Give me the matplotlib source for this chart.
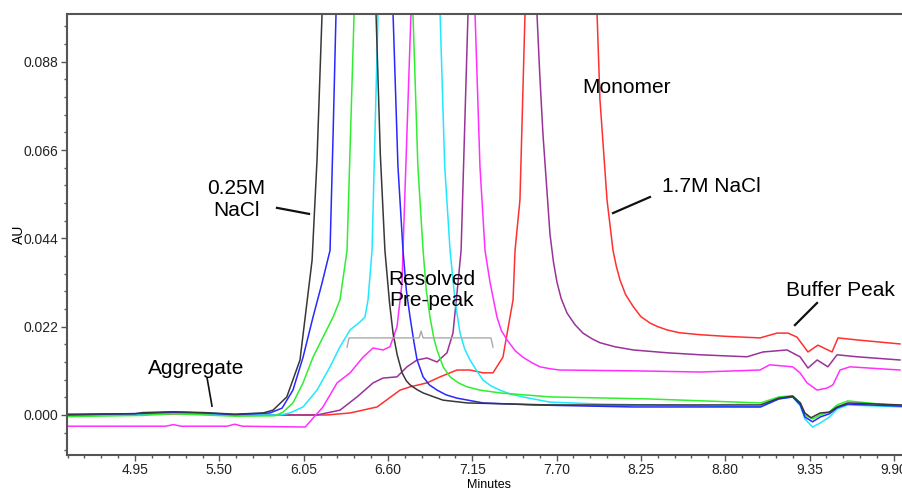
import numpy as np
import matplotlib
matplotlib.use("Agg")
import matplotlib.pyplot as plt
from matplotlib.ticker import MultipleLocator, FormatStrFormatter

plt.rcParams['font.family'] = ['Liberation Sans', 'DejaVu Sans']

# traces (minutes, AU); apex points are off-scale
t_black = [4.51, 4.95, 5.0, 5.2, 5.4, 5.6, 5.785, 5.85, 5.94, 6.026, 6.105, 6.137, 6.17, 6.35,
           6.522, 6.55, 6.58, 6.61, 6.633, 6.66, 6.692, 6.72, 6.744, 6.79, 6.829, 6.9, 6.959, 7.116,
           7.442, 7.657, 8.3, 9.03,
           9.15, 9.24, 9.29, 9.32, 9.36, 9.42, 9.48, 9.53, 9.6, 9.95]
au_black = [0.0002, 0.0003, 0.0006, 0.0008, 0.0006, 0.0002, 0.0005, 0.0012, 0.0045, 0.0137, 0.0386, 0.0635, 0.1, 0.25,
            0.1, 0.065, 0.041, 0.028, 0.0204, 0.015, 0.0105, 0.0085, 0.0075, 0.0063, 0.0055, 0.0045, 0.0037, 0.003,
            0.0027, 0.0025, 0.0025, 0.0025,
            0.0042, 0.0047, 0.003, 0.0005, -0.0007, 0.0005, 0.0007, 0.002, 0.003, 0.0025]

t_blue = [4.51, 5.0, 5.2, 5.4, 5.6, 5.83, 5.909, 5.98, 6.046, 6.111, 6.17, 6.222, 6.242, 6.261, 6.45,
          6.633, 6.665, 6.698, 6.72, 6.744, 6.77, 6.79, 6.829, 6.87, 6.92, 6.98, 7.05, 7.22, 7.546, 8.2, 9.03,
          9.15, 9.24, 9.29, 9.32, 9.37, 9.42, 9.48, 9.53, 9.6, 9.95]
au_blue = [0.0, 0.0004, 0.0007, 0.0005, 0.0001, 0.0005, 0.0017, 0.0062, 0.0144, 0.0244, 0.0329, 0.041, 0.07, 0.1, 0.25,
           0.1, 0.062, 0.041, 0.031, 0.0244, 0.018, 0.0137, 0.0095, 0.0075, 0.0062, 0.005, 0.0042, 0.003, 0.0025, 0.002, 0.002,
           0.004, 0.0045, 0.0025, -0.0005, -0.0017, -0.0005, 0.0003, 0.0018, 0.0027, 0.0022]

t_green = [4.51, 5.0, 5.2, 5.4, 5.6, 5.86, 5.915, 5.98, 6.046, 6.111, 6.176, 6.242, 6.287, 6.333, 6.379, 6.57,
           6.763, 6.795, 6.829, 6.85, 6.874, 6.9, 6.92, 6.96, 7.005, 7.06, 7.116, 7.2, 7.33, 7.657, 8.3, 9.03,
           9.15, 9.24, 9.29, 9.32, 9.37, 9.42, 9.48, 9.53, 9.6, 9.95]
au_green = [-0.0004, -0.0001, 0.0003, 0.0, -0.0003, -0.0002, 0.0007, 0.003, 0.008, 0.0144, 0.0194, 0.0244, 0.0287, 0.041, 0.1, 0.25,
            0.1, 0.062, 0.041, 0.031, 0.0244, 0.019, 0.0162, 0.012, 0.0095, 0.008, 0.007, 0.0062, 0.0055, 0.0045, 0.004, 0.003,
            0.0045, 0.0048, 0.003, 0.0, -0.001, 0.0, 0.0008, 0.0025, 0.0035, 0.0022]

t_cyan = [4.51, 5.0, 5.2, 5.4, 5.6, 5.9, 5.96, 6.046, 6.137, 6.222, 6.287, 6.353, 6.418, 6.45, 6.47, 6.496, 6.535, 6.74,
          6.94, 6.97, 7.005, 7.037, 7.07, 7.1, 7.135, 7.18, 7.22, 7.27, 7.33, 7.4, 7.48, 7.657, 8.0, 9.03,
          9.15, 9.24, 9.29, 9.32, 9.37, 9.42, 9.48, 9.53, 9.6, 9.95]
au_cyan = [0.0, 0.0002, 0.0005, 0.0003, 0.0, 0.0, 0.0005, 0.002, 0.0062, 0.012, 0.017, 0.0212, 0.0232, 0.0244, 0.0287, 0.041, 0.1, 0.25,
           0.1, 0.062, 0.041, 0.0287, 0.0204, 0.0165, 0.0137, 0.011, 0.0087, 0.0073, 0.0062, 0.0052, 0.0045, 0.0032, 0.0027, 0.002,
           0.004, 0.0045, 0.0023, -0.001, -0.003, -0.002, -0.0005, 0.0015, 0.0025, 0.002]

t_magenta = [4.51, 5.15, 5.2, 5.25, 5.55, 5.6, 5.65, 6.06, 6.09, 6.176, 6.268, 6.353, 6.437, 6.503, 6.568, 6.613,
             6.659, 6.692, 6.698, 6.75, 6.96,
             7.168, 7.2, 7.233, 7.266, 7.311, 7.34, 7.377, 7.43, 7.48, 7.54, 7.592, 7.66, 7.722, 8.2, 8.636,
             9.027, 9.09, 9.24, 9.288,
             9.334, 9.4, 9.464, 9.503, 9.549, 9.614, 9.94]
au_magenta = [-0.0028, -0.0028, -0.0024, -0.0028, -0.0028, -0.0023, -0.0028, -0.003, -0.0017, 0.002, 0.008, 0.0105, 0.0144, 0.0167, 0.0162, 0.017,
              0.022, 0.033, 0.041, 0.1, 0.25,
              0.1, 0.062, 0.041, 0.033, 0.0244, 0.021, 0.0187, 0.016, 0.0144, 0.013, 0.012, 0.0115, 0.0112, 0.011, 0.0107,
              0.0112, 0.0125, 0.012, 0.0105,
              0.008, 0.0062, 0.0067, 0.0075, 0.0112, 0.012, 0.0112]

t_purple = [4.51, 5.0, 5.3, 5.6, 6.137, 6.287, 6.398, 6.503, 6.568, 6.659, 6.724, 6.79, 6.855, 6.92, 6.985, 7.024,
            7.057, 7.077, 7.122, 7.35,
            7.572, 7.59, 7.611, 7.635, 7.657, 7.68, 7.703, 7.73, 7.768, 7.82, 7.872, 7.93, 7.983, 8.08, 8.2,
            8.42, 8.636, 8.942, 9.047, 9.203, 9.288,
            9.34, 9.4, 9.47, 9.53, 9.66, 9.94]
au_purple = [0.0, 0.0003, 0.0004, 0.0, 0.0, 0.0012, 0.0045, 0.008, 0.0092, 0.0095, 0.012, 0.0137, 0.0142, 0.0132, 0.0155, 0.0204,
             0.033, 0.041, 0.1, 0.25,
             0.1, 0.085, 0.07, 0.057, 0.045, 0.038, 0.033, 0.029, 0.0254, 0.0225, 0.0204, 0.019, 0.018, 0.017, 0.0162,
             0.0155, 0.015, 0.0145, 0.0157, 0.0162, 0.0145,
             0.0117, 0.0137, 0.012, 0.015, 0.0145, 0.0137]

t_red = [4.51, 5.0, 5.3, 5.6, 6.2, 6.353, 6.529, 6.679, 6.744, 6.855, 6.94, 7.05, 7.135, 7.22, 7.285, 7.35,
         7.396, 7.416, 7.429, 7.461, 7.494, 7.73,
         7.964, 7.983, 8.029, 8.068, 8.09, 8.114, 8.15, 8.2, 8.25, 8.31, 8.36, 8.42, 8.5, 8.636, 8.8,
         9.027, 9.138, 9.21, 9.268,
         9.34, 9.405, 9.497, 9.536, 9.66, 9.94]
au_red = [0.0, 0.0002, 0.0003, 0.0, 0.0, 0.0005, 0.002, 0.0062, 0.007, 0.008, 0.0095, 0.0112, 0.0112, 0.0105, 0.0105, 0.0144,
          0.0244, 0.0287, 0.041, 0.0536, 0.1, 0.25,
          0.1, 0.0785, 0.0536, 0.041, 0.037, 0.0336, 0.030, 0.027, 0.0245, 0.0229, 0.022, 0.0212, 0.0205, 0.02, 0.0196,
          0.0192, 0.0204, 0.0204, 0.0194,
          0.0157, 0.0174, 0.0157, 0.0192, 0.0187, 0.0177]

traces = [(t_red, au_red, '#ff3030'),
          (t_purple, au_purple, '#993399'),
          (t_magenta, au_magenta, '#ff30ff'),
          (t_cyan, au_cyan, '#20e8ff'),
          (t_green, au_green, '#30ee30'),
          (t_blue, au_blue, '#2828ff'),
          (t_black, au_black, '#383838')]

fig = plt.figure(figsize=(9.02, 4.90), dpi=100)
# right edge of the axes runs past the figure, as in the cropped original
ax = fig.add_axes([67/902, 35/490, 0.935, 441/490])

for t, au, c in traces:
    ax.plot(t, au, color=c, linewidth=1.1)

ax.set_xlim(4.506, 10.008)
ax.set_ylim(-0.00997, 0.0999)

ax.set_xticks(np.arange(4.95, 9.91, 0.55))
ax.xaxis.set_minor_locator(MultipleLocator(0.11, offset=0.0))
ax.xaxis.set_major_formatter(FormatStrFormatter('%.2f'))
ax.set_yticks(np.arange(0.0, 0.0881, 0.022))
ax.yaxis.set_minor_locator(MultipleLocator(0.0044))
ax.yaxis.set_major_formatter(FormatStrFormatter('%.3f'))

ax.tick_params(which='major', direction='out', length=4, width=1, color='#555555',
               labelsize=10, labelcolor='#222222', pad=2)
ax.tick_params(which='minor', direction='out', length=2, width=1, color='#555555')
for s in ['left', 'top', 'bottom']:
    ax.spines[s].set_color('#555555')
    ax.spines[s].set_linewidth(1.5)
ax.spines['right'].set_visible(False)

ax.set_ylabel('AU', fontsize=10)
ax.yaxis.set_label_coords(-41/843, 0.5)
ax.set_xlabel('Minutes', fontsize=9, labelpad=1)

# annotations
fs = 15
ax.text(8.153, 0.0817, 'Monomer', fontsize=fs, ha='center', va='center')
ax.text(5.609, 0.0537, '0.25M\nNaCl', fontsize=fs, ha='center', va='center', linespacing=1.2)
ax.plot([5.876, 6.085], [0.0516, 0.0501], color='#111111', linewidth=1.6)
ax.text(8.707, 0.057, '1.7M NaCl', fontsize=fs, ha='center', va='center')
ax.plot([8.068, 8.309], [0.0503, 0.0543], color='#111111', linewidth=1.6)
ax.text(6.887, 0.0311, 'Resolved\nPre-peak', fontsize=fs, ha='center', va='center', linespacing=1.1)
ax.plot([6.333, 6.346, 6.803, 6.816, 6.829, 7.272, 7.285],
        [0.0169, 0.0192, 0.0192, 0.0209, 0.0192, 0.0192, 0.0169], color='#aaaaaa', linewidth=1)
ax.text(9.555, 0.0311, 'Buffer Peak', fontsize=fs, ha='center', va='center')
ax.plot([9.255, 9.399], [0.0224, 0.0279], color='#111111', linewidth=1.6)
ax.text(5.348, 0.0117, 'Aggregate', fontsize=fs, ha='center', va='center')
ax.plot([5.42, 5.452], [0.0092, 0.0022], color='#111111', linewidth=1.2)

fig.savefig('out.png', dpi=100)
